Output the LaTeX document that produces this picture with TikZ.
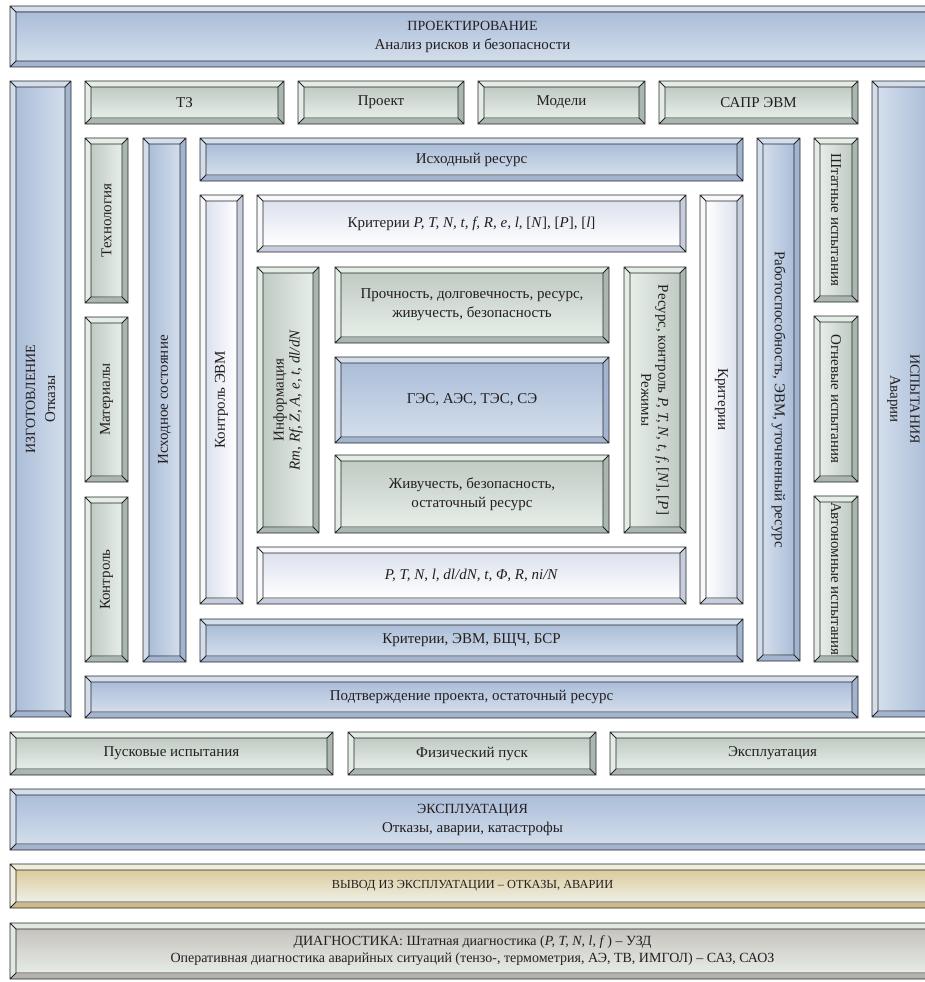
\documentclass[tikz,border=0pt]{standalone}
\usepackage{fontspec}
\setmainfont{Liberation Serif}
\definecolor{bluebevL}{HTML}{D3DDEB}
\definecolor{bluebevD}{HTML}{A2B4D0}
\definecolor{blueinD}{HTML}{ABBDD8}
\definecolor{blueinL}{HTML}{D3DEEC}
\definecolor{greenbevL}{HTML}{E4ECE6}
\definecolor{greenbevD}{HTML}{AAB6B0}
\definecolor{greeninD}{HTML}{C0CBC4}
\definecolor{greeninL}{HTML}{E6EEE8}
\definecolor{whitebevL}{HTML}{F7F8FB}
\definecolor{whitebevD}{HTML}{C6CDDE}
\definecolor{whiteinD}{HTML}{DCE1EE}
\definecolor{whiteinL}{HTML}{FFFFFF}
\definecolor{tanbevL}{HTML}{EFEEDD}
\definecolor{tanbevD}{HTML}{CDB98A}
\definecolor{taninD}{HTML}{DCCB9D}
\definecolor{taninL}{HTML}{EEF0E6}
\definecolor{graybevL}{HTML}{E2E8E2}
\definecolor{graybevD}{HTML}{B5B2AD}
\definecolor{grayinD}{HTML}{C6C3BE}
\definecolor{grayinL}{HTML}{E6ECE6}
\definecolor{ink}{HTML}{231F20}
\newcommand{\bvw}{6}
\newcommand{\reg}{\fontsize{15}{19}\selectfont}
% name, x1, y1, x2, y2, scheme, rotation, extra node options, text
\newcommand{\bevbox}[9]{%
  \fill[#6bevL] (#2,#3) rectangle (#4,#5);
  \fill[#6bevD] (#2,#5) -- ({#2+\bvw},{#5-\bvw}) -- ({#4-\bvw},{#5-\bvw}) -- ({#4-\bvw},{#3+\bvw}) -- (#4,#3) -- (#4,#5) -- cycle;
  \ifnum#7=0
    \shade[top color=#6inD, bottom color=#6inL] ({#2+\bvw},{#3+\bvw}) rectangle ({#4-\bvw},{#5-\bvw});
  \else\ifnum#7=90
    \shade[left color=#6inD, right color=#6inL] ({#2+\bvw},{#3+\bvw}) rectangle ({#4-\bvw},{#5-\bvw});
  \else
    \shade[left color=#6inL, right color=#6inD] ({#2+\bvw},{#3+\bvw}) rectangle ({#4-\bvw},{#5-\bvw});
  \fi\fi
  \draw[edge] (#2,#3) rectangle (#4,#5)
    ({#2+\bvw},{#3+\bvw}) rectangle ({#4-\bvw},{#5-\bvw})
    (#2,#3) -- ({#2+\bvw},{#3+\bvw})
    (#4,#3) -- ({#4-\bvw},{#3+\bvw})
    (#2,#5) -- ({#2+\bvw},{#5-\bvw})
    (#4,#5) -- ({#4-\bvw},{#5-\bvw});
  \node[lbl, rotate=#7, #8] (#1) at ({(#2+#4)/2},{(#3+#5)/2}) {#9};
}
\tikzset{
  edge/.style={draw=black!85, line width=0.9pt},
  lbl/.style={text=ink, align=center, inner sep=0pt, font=\fontsize{15}{18}\selectfont},
  ttl/.style={font=\fontsize{14}{19}\selectfont}
}
\begin{document}
\begin{tikzpicture}[x=1pt, y=-1pt]
\useasboundingbox (0,0) rectangle (925,982);
\clip (0,0) rectangle (925,982);
\fill[white] (0,0) rectangle (925,982);
% top
\bevbox{proj}{10}{6}{935}{67}{blue}{0}{ttl}{ПРОЕКТИРОВАНИЕ\\{\reg Анализ рисков и безопасности}}
\bevbox{izg}{10}{81}{71}{717}{blue}{90}{font=\fontsize{14}{20}\selectfont}{ИЗГОТОВЛЕНИЕ\\{\reg Отказы}}
\bevbox{isp}{872}{81}{935}{717}{blue}{-90}{font=\fontsize{14}{20}\selectfont}{ИСПЫТАНИЯ\\{\reg Аварии}}
% row of design items
\bevbox{tz}{85}{81}{284}{124}{green}{0}{}{ТЗ}
\bevbox{proekt}{298}{81}{464}{124}{green}{0}{}{Проект}
\bevbox{modeli}{478}{81}{645}{124}{green}{0}{}{Модели}
\bevbox{sapr}{659}{81}{858}{124}{green}{0}{}{САПР ЭВМ}
% left inner columns
\bevbox{tech}{85}{138}{128}{303}{green}{90}{}{Технология}
\bevbox{mat}{85}{317}{128}{482}{green}{90}{}{Материалы}
\bevbox{kontr}{85}{497}{128}{662}{green}{90}{}{Контроль}
\bevbox{ishsost}{143}{138}{186}{662}{blue}{90}{}{Исходное состояние}
\bevbox{ishres}{200}{138}{743}{181}{blue}{0}{}{Исходный ресурс}
\bevbox{kevm}{200}{195}{243}{604}{white}{90}{}{Контроль ЭВМ}
\bevbox{krit1}{257}{195}{686}{252}{white}{0}{}{Критерии \textit{P, T, N, t, f, R, e, l,} [\textit{N}], [\textit{P}], [\textit{l}]}
\bevbox{krit2}{700}{195}{743}{604}{white}{-90}{}{Критерии}
% right inner columns
\bevbox{rabot}{757}{138}{800}{661}{blue}{-90}{}{Работоспособность, ЭВМ, уточненный ресурс}
\bevbox{shtat}{814}{138}{858}{302}{green}{-90}{}{Штатные испытания}
\bevbox{ogn}{814}{316}{858}{482}{green}{-90}{}{Огневые испытания}
\bevbox{avt}{814}{496}{858}{662}{green}{-90}{}{Автономные испытания}
% core
\bevbox{inform}{257}{267}{319}{533}{green}{90}{font=\fontsize{15}{16}\selectfont}{Информация\\\textit{Rm, Rf, Z, A, e, t, dl/dN}}
\bevbox{proch}{335}{267}{609}{343}{green}{0}{font=\fontsize{15}{19}\selectfont}{Прочность, долговечность, ресурс,\\живучесть, безопасность}
\bevbox{ges}{335}{357}{609}{443}{blue}{0}{}{ГЭС, АЭС, ТЭС, СЭ}
\bevbox{zhiv}{335}{455}{609}{533}{green}{0}{font=\fontsize{15}{19}\selectfont}{Живучесть, безопасность,\\остаточный ресурс}
\bevbox{resurs}{624}{267}{686}{533}{green}{-90}{font=\fontsize{15}{17}\selectfont}{Ресурс, контроль \textit{P, T, N, t, f}, [\textit{N}], [\textit{P}]\\Режимы}
\bevbox{ptn}{257}{547}{686}{604}{white}{0}{}{\textit{P, T, N, l, dl/dN, t, Φ, R, ni/N}}
\bevbox{kritevm}{200}{619}{743}{662}{blue}{0}{}{Критерии, ЭВМ, БЩЧ, БСР}
\bevbox{podtv}{85}{676}{858}{718}{blue}{0}{}{Подтверждение проекта, остаточный ресурс}
% launch row
\bevbox{pusk}{10}{732}{333}{775}{green}{0}{}{Пусковые испытания}
\bevbox{fiz}{348}{732}{596}{775}{green}{0}{}{Физический пуск}
\bevbox{expl}{610}{732}{935}{775}{green}{0}{}{Эксплуатация}
% bottom bands
\bevbox{EXPL}{10}{789}{935}{850}{blue}{0}{ttl}{ЭКСПЛУАТАЦИЯ\\{\reg Отказы, аварии, катастрофы}}
\bevbox{vyvod}{10}{864}{935}{908}{tan}{0}{font=\fontsize{12.3}{15}\selectfont}{ВЫВОД ИЗ ЭКСПЛУАТАЦИИ – ОТКАЗЫ, АВАРИИ}
\bevbox{diag}{10}{923}{935}{979}{gray}{0}{font=\fontsize{14}{17}\selectfont}{ДИАГНОСТИКА: Штатная диагностика (\textit{P, T, N, l, f}\,) – УЗД\\Оперативная диагностика аварийных ситуаций (тензо-, термометрия, АЭ, ТВ, ИМГОЛ) – САЗ, САОЗ}
\end{tikzpicture}
\end{document}
